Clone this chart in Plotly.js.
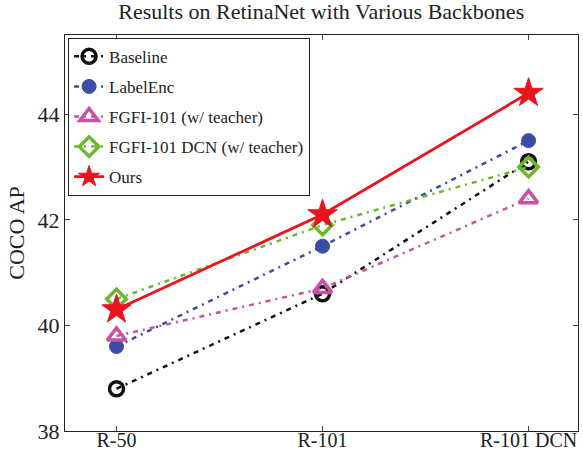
<!DOCTYPE html>
<html><head><meta charset="utf-8">
<script src="https://cdn.plot.ly/plotly-3.0.1.min.js"></script>
<style>body{margin:0;padding:0;background:#fff}#c{width:583px;height:454px}</style>
</head><body><div id="c"></div>
<script>
const categories = ["R-50", "R-101", "R-101 DCN"];
const baseline = [38.8, 40.6, 43.1];
const labelEnc = [39.6, 41.5, 43.5];
const fgfi101 = [39.8, 40.7, 42.4];
const fgfi101dcn = [40.5, 41.9, 43.0];
const ours = [40.3, 42.1, 44.4];
const seriesNames = ["Baseline", "LabelEnc", "FGFI-101 (w/ teacher)", "FGFI-101 DCN (w/ teacher)", "Ours"];
const yTicks = [38, 40, 42, 44];

const xIdx = categories.map((_, i) => i);
const F = "Liberation Serif, Times New Roman, serif";
const DD = "5px,5px,2px,5px";

function tr(name, y, color, dash, width, symbol, size, mlw) {
  return {
    x: xIdx, y: y, name: name, legendgroup: name, type: "scatter", mode: "lines+markers",
    line: {color: color, dash: dash, width: width},
    marker: {symbol: symbol, size: size, color: color, line: {color: color, width: mlw}}
  };
}
const data = [
  tr(seriesNames[0], baseline, "#111111", DD, 2.5, "circle-open", 14, 3.5),
  tr(seriesNames[1], labelEnc, "#3a4ca3", DD, 2.5, "circle", 14, 1),
  tr(seriesNames[2], fgfi101, "#c752a5", DD, 2.5, "triangle-up-open", 16, 3.5),
  tr(seriesNames[3], fgfi101dcn, "#6bb82e", DD, 2.5, "diamond-open", 15, 3.5),
  tr(seriesNames[4], ours, "#e8141e", "solid", 2.8, "star", 22, 1)
];
const layout = {
  width: 583, height: 454,
  margin: {l: 65, r: 5, t: 35, b: 23},
  paper_bgcolor: "#fff", plot_bgcolor: "#fff",
  font: {family: F, color: "#222"},
  title: {text: "Results on RetinaNet with Various Backbones", font: {family: F, size: 22, color: "#222"}, x: 0.551, xanchor: "center", y: 0.993, yanchor: "top"},
  xaxis: {range: [-0.25, 2.24], tickvals: xIdx, ticktext: categories, ticks: "inside", ticklen: 5,
          showline: true, linecolor: "#222", linewidth: 1, mirror: "ticks", showgrid: false, zeroline: false,
          ticklabelstandoff: -9,
          tickfont: {family: F, size: 20, color: "#222"}},
  yaxis: {range: [38, 45.5], tickvals: yTicks, ticks: "inside", ticklen: 5,
          showline: true, linecolor: "#222", linewidth: 1, mirror: "ticks", showgrid: false, zeroline: false,
          tickfont: {family: F, size: 22, color: "#222"},
          title: {text: "COCO AP", font: {family: F, size: 22, color: "#222"}, standoff: 6}},
  legend: {x: 0.006, y: 0.993, xanchor: "left", yanchor: "top", bgcolor: "#fff", bordercolor: "#222", borderwidth: 1,
           font: {family: F, size: 17, color: "#222"}, tracegroupgap: 5, itemwidth: 30},
  showlegend: true
};
Plotly.newPlot("c", data, layout, {displayModeBar: false, staticPlot: true});
</script></body></html>
